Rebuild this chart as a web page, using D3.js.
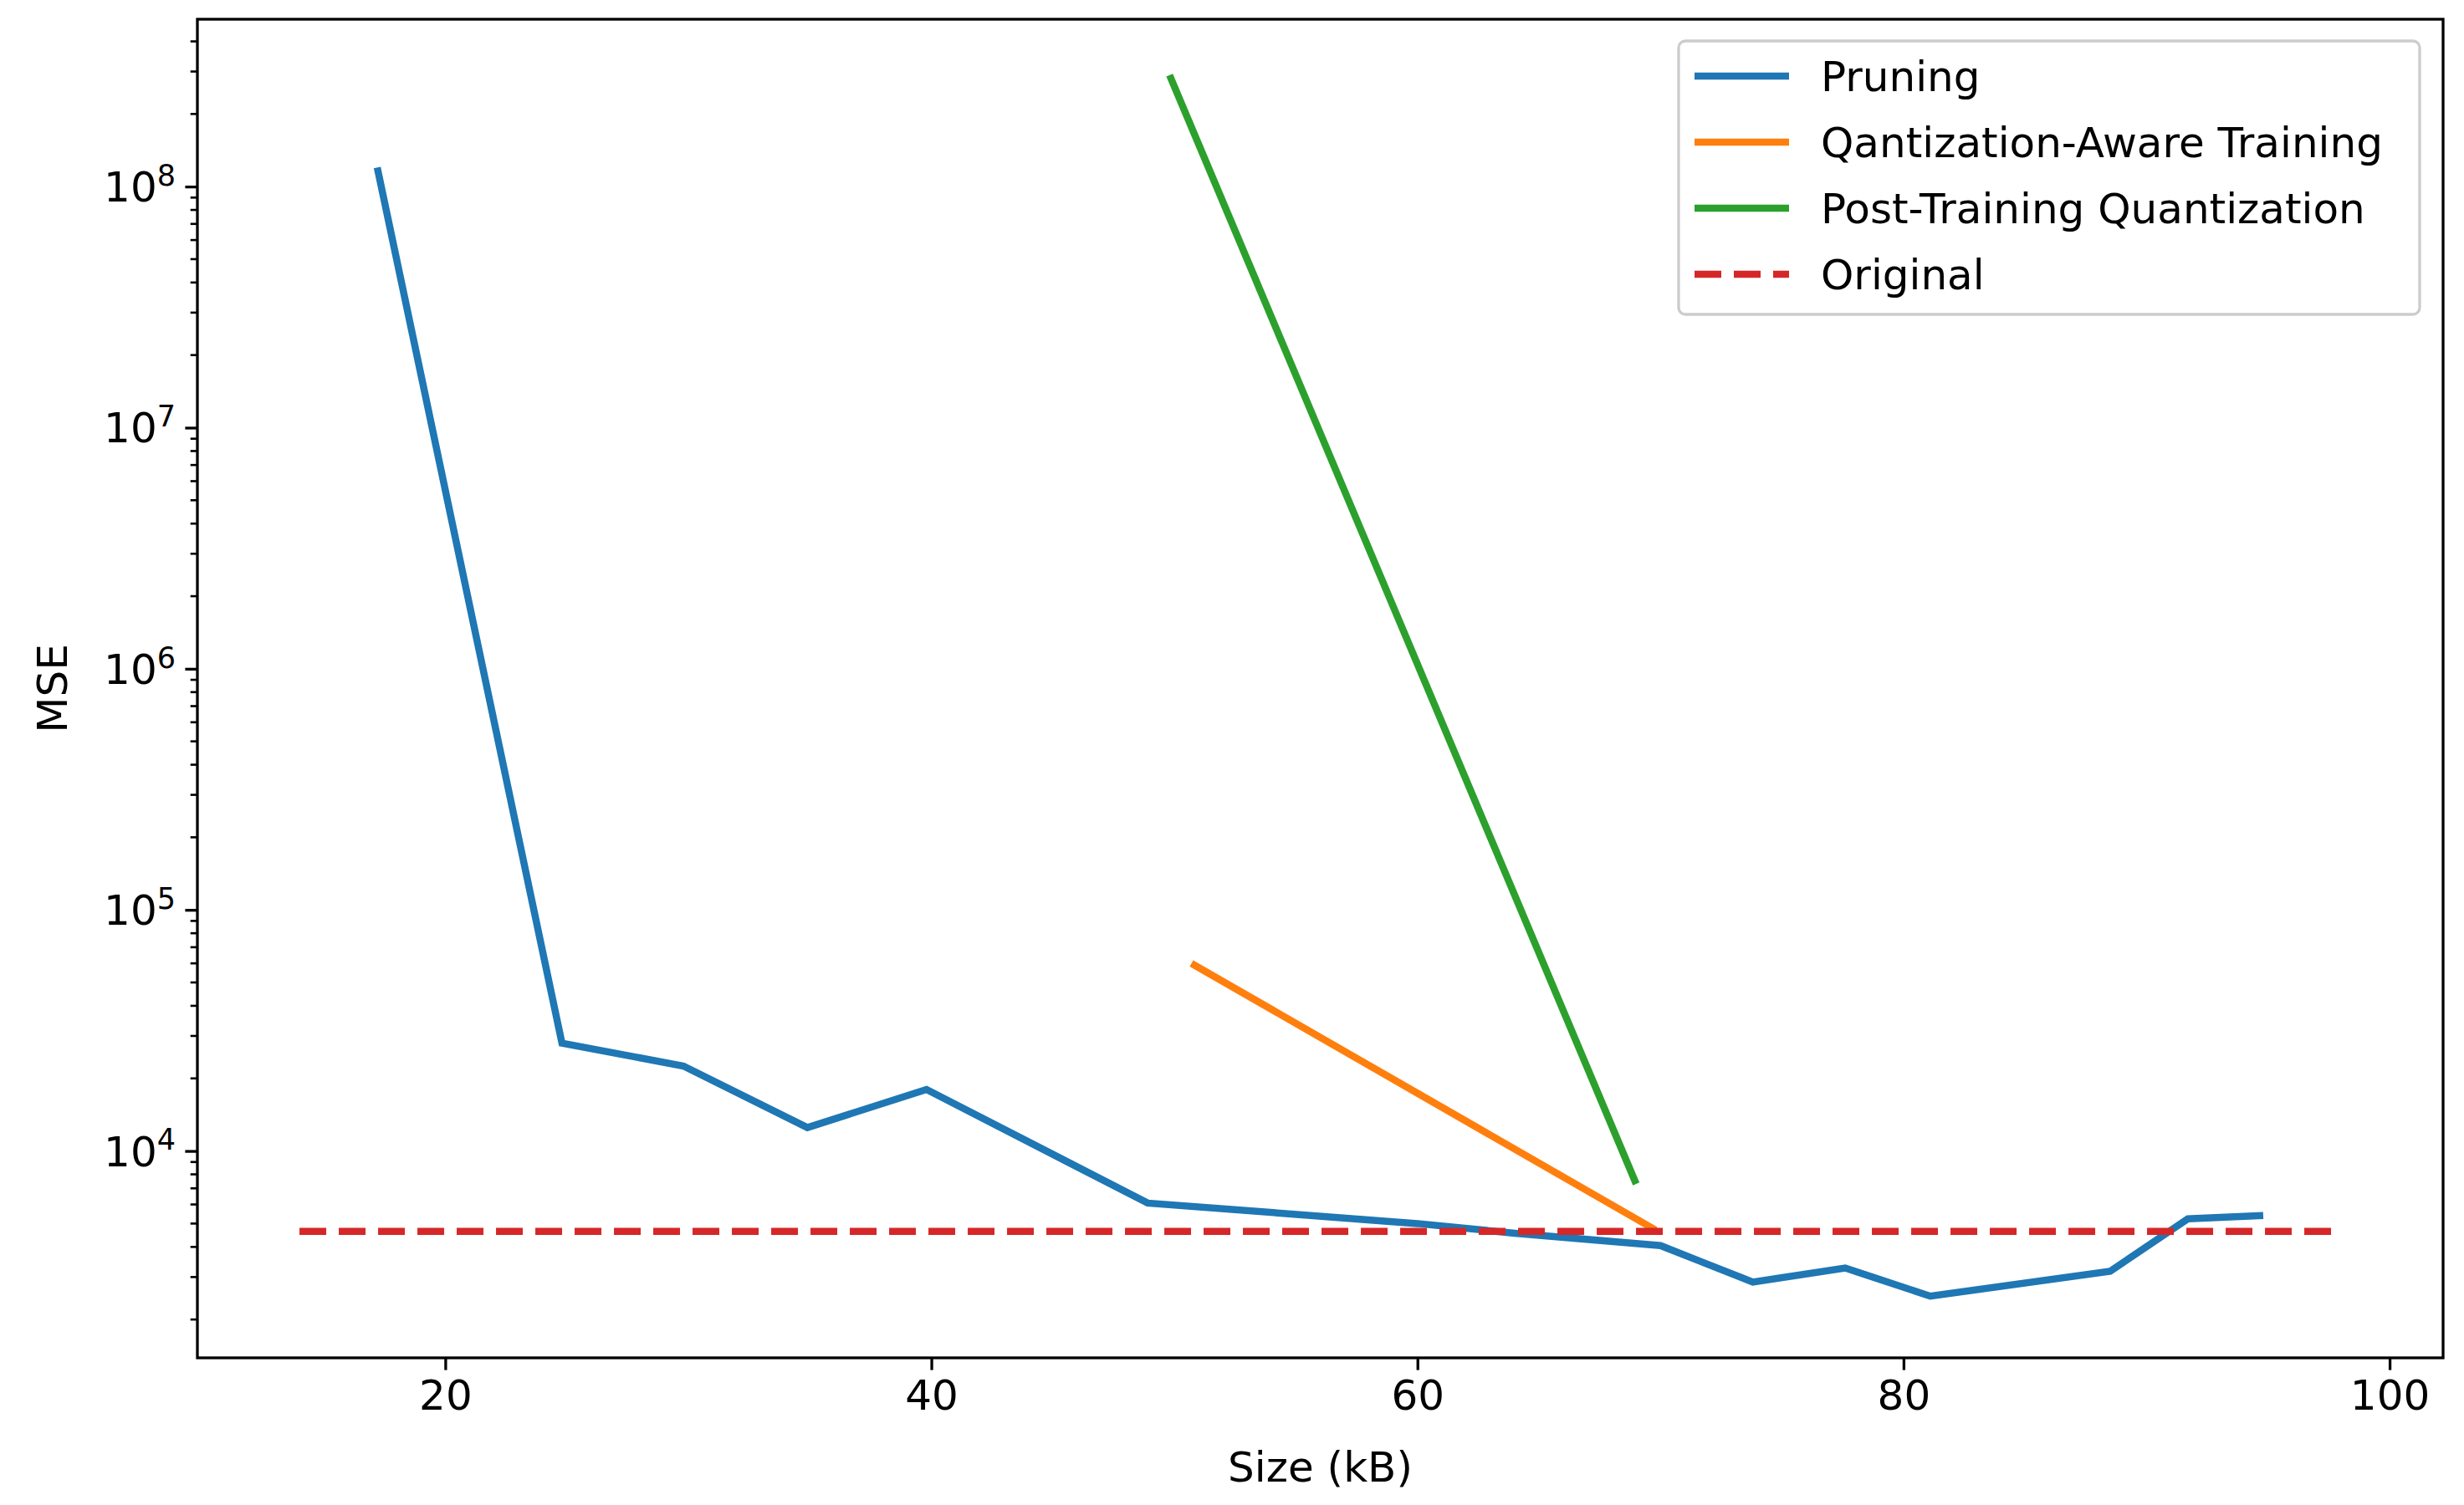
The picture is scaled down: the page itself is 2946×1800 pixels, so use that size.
<!DOCTYPE html>
<html><head><meta charset="utf-8">
<script src="https://cdn.jsdelivr.net/npm/d3@7"></script>
<style>body{margin:0;background:#fff}text{font-family:"DejaVu Sans",sans-serif;fill:#000}</style>
</head><body>
<script>
const pruningX = [17.2, 24.8, 29.8, 34.9, 39.8, 48.9, 60, 64, 70.0, 73.8, 77.6, 81.1, 88.5, 91.7, 94.8];
const pruningY = [1.2e8, 2.8e4, 2.25e4, 1.25e4, 1.8e4, 6080, 5000, 4560, 4050, 2860, 3270, 2500, 3170, 5230, 5400];
const qatX = [50.7, 69.8];
const qatY = [6.0e4, 4700];
const ptqX = [49.8, 69.0];
const ptqY = [2.9e8, 7300];
const originalX = [14, 98];
const originalY = [4640, 4640];
const xTicks = [20, 40, 60, 80, 100];
const yTicks = [1e4, 1e5, 1e6, 1e7, 1e8];

const W = 2946, H = 1800;
const FS = 50;
const m = {l: 236, r: 2921, t: 23, b: 1624};
const svg = d3.select('body').append('svg').attr('width', W).attr('height', H);
const x = d3.scaleLinear().domain([9.8, 102.2]).range([m.l, m.r]);
const y = d3.scaleLog().domain([Math.pow(10, 3.142), Math.pow(10, 8.694)]).range([m.b, m.t]);

const series = [
  {name: 'Pruning', xs: pruningX, ys: pruningY, color: '#1f77b4'},
  {name: 'Qantization-Aware Training', xs: qatX, ys: qatY, color: '#ff7f0e'},
  {name: 'Post-Training Quantization', xs: ptqX, ys: ptqY, color: '#2ca02c'},
  {name: 'Original', xs: originalX, ys: originalY, color: '#d62728', dash: '32,15'}
];

const line = d3.line().x(d => x(d[0])).y(d => y(d[1]));
const plot = svg.append('g');
series.forEach(s => {
  plot.append('path')
    .datum(s.xs.map((v, i) => [v, s.ys[i]]))
    .attr('d', line)
    .attr('fill', 'none')
    .attr('stroke', s.color)
    .attr('stroke-width', 8.5)
    .attr('stroke-dasharray', s.dash || null);
});

// x axis
const xAxis = svg.append('g').attr('transform', `translate(0,${m.b})`)
  .call(d3.axisBottom(x).tickValues(xTicks).tickSize(14.6).tickPadding(12).tickFormat(d3.format('d')));
xAxis.select('.domain').remove();
xAxis.selectAll('line').attr('stroke-width', 3.3);
xAxis.selectAll('text').attr('font-size', FS).style('font-family', 'DejaVu Sans');

// y axis major
const yAxis = svg.append('g').attr('transform', `translate(${m.l},0)`)
  .call(d3.axisLeft(y).tickValues(yTicks).tickSize(14.6).tickFormat(() => ''));
yAxis.select('.domain').remove();
yAxis.selectAll('line').attr('stroke-width', 3.3);
yAxis.selectAll('.tick').each(function(d) {
  const t = d3.select(this).append('text').attr('x', -26).attr('dy', '0.35em')
    .attr('text-anchor', 'end').attr('font-size', FS);
  t.append('tspan').text('10');
  t.append('tspan').attr('dy', '-0.55em').attr('font-size', 35).text(Math.round(Math.log10(d)));
});
// minor ticks
const minor = [];
for (let e = 3; e <= 8; e++) for (let k = 2; k <= 9; k++) {
  const v = k * Math.pow(10, e);
  if (v >= y.domain()[0] && v <= y.domain()[1]) minor.push(v);
}
svg.append('g').selectAll('line').data(minor).join('line')
  .attr('x1', m.l - 8.3).attr('x2', m.l).attr('y1', d => y(d)).attr('y2', d => y(d))
  .attr('stroke', '#000').attr('stroke-width', 2.6);

// frame
svg.append('rect').attr('x', m.l).attr('y', m.t).attr('width', m.r - m.l).attr('height', m.b - m.t)
  .attr('fill', 'none').attr('stroke', '#000').attr('stroke-width', 3.3);

// labels
svg.append('text').attr('x', (m.l + m.r) / 2).attr('y', 1772).attr('text-anchor', 'middle')
  .attr('font-size', FS).text('Size (kB)');
svg.append('text').attr('transform', `translate(80,${(m.t + m.b) / 2}) rotate(-90)`)
  .attr('text-anchor', 'middle').attr('font-size', FS).text('MSE');

// legend
const lg = svg.append('g');
lg.append('rect').attr('x', 2007).attr('y', 49).attr('width', 886).attr('height', 327).attr('rx', 8)
  .attr('fill', '#fff').attr('fill-opacity', 0.8).attr('stroke', '#ccc').attr('stroke-width', 3.3);
series.forEach((s, i) => {
  const yy = 91 + i * 79;
  lg.append('line').attr('x1', 2026).attr('x2', 2139).attr('y1', yy).attr('y2', yy)
    .attr('stroke', s.color).attr('stroke-width', 8.5).attr('stroke-dasharray', s.dash || null);
  lg.append('text').attr('x', 2177).attr('y', yy).attr('dy', '0.35em').attr('font-size', FS).text(s.name);
});
</script>
</body></html>
